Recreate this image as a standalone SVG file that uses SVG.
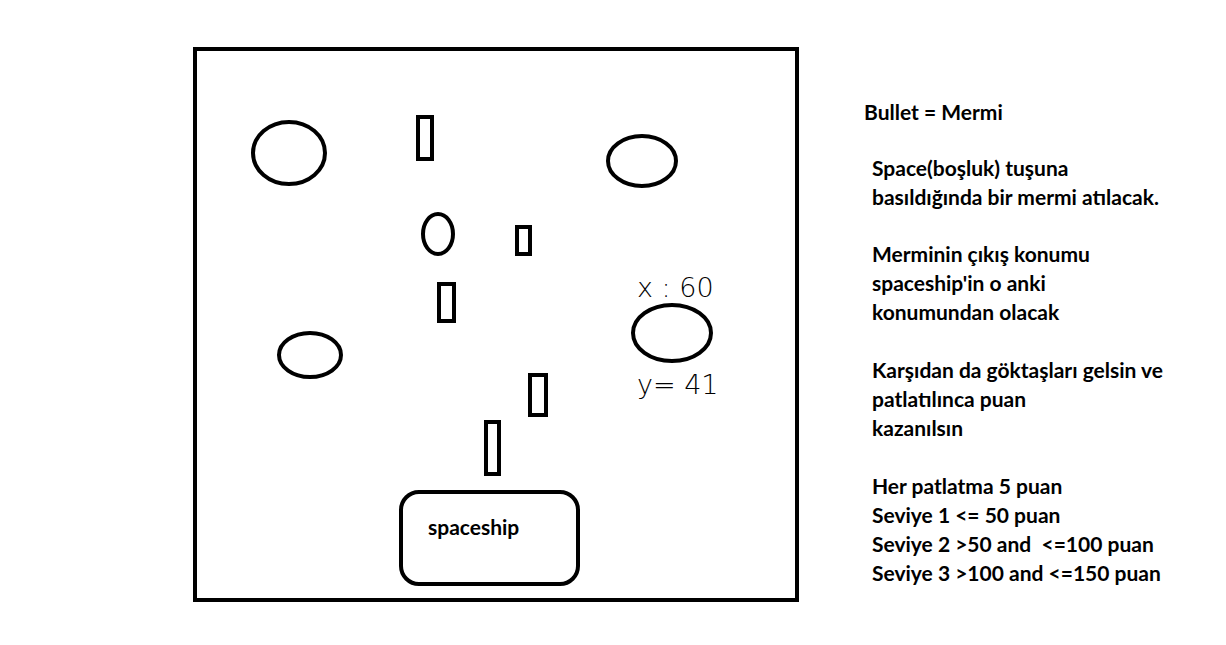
<svg xmlns="http://www.w3.org/2000/svg" width="1226" height="645" viewBox="0 0 1226 645">
<style>
.s{fill:none;stroke:#000;stroke-width:4}
.t{font-family:Lato,"Liberation Sans",sans-serif;font-size:21px;font-weight:bold;fill:#000;white-space:pre}
.h{font-family:"DejaVu Sans",sans-serif;font-size:27px;font-weight:200;fill:#000}
</style>
<rect width="1226" height="645" fill="#fff"/>
<g id="frame"><rect class="s" x="195" y="49" width="602" height="551"/></g>
<g id="asteroid1"><ellipse class="s" cx="289" cy="153" rx="36" ry="31"/></g>
<g id="asteroid2"><ellipse class="s" cx="642" cy="161" rx="34" ry="25"/></g>
<g id="asteroid3"><ellipse class="s" cx="438" cy="234" rx="15" ry="20"/></g>
<g id="asteroid4"><ellipse class="s" cx="310" cy="355" rx="31" ry="22"/></g>
<g id="asteroid5"><ellipse class="s" cx="672" cy="333" rx="39" ry="28"/>
<text class="h" x="637" y="297">x : 60</text>
<text class="h" x="637" y="394">y= 41</text></g>
<g id="bullet1"><rect class="s" x="418" y="117" width="14" height="42"/></g>
<g id="bullet2"><rect class="s" x="517" y="227" width="13" height="27"/></g>
<g id="bullet3"><rect class="s" x="439" y="284" width="15" height="37"/></g>
<g id="bullet4"><rect class="s" x="530" y="375" width="16" height="40"/></g>
<g id="bullet5"><rect class="s" x="486" y="422" width="13" height="52"/></g>
<g id="spaceship"><rect class="s" x="401" y="492" width="177" height="92" rx="18"/>
<text class="t" x="428" y="535">spaceship</text></g>
<g id="notes">
<text class="t" x="864" y="120">Bullet = Mermi</text>
<text class="t" x="872" y="176">Space(boşluk) tuşuna</text>
<text class="t" x="872" y="205">basıldığında bir mermi atılacak.</text>
<text class="t" x="872" y="262">Merminin çıkış konumu</text>
<text class="t" x="872" y="291">spaceship'in o anki</text>
<text class="t" x="872" y="320">konumundan olacak</text>
<text class="t" x="872" y="378">Karşıdan da göktaşları gelsin ve</text>
<text class="t" x="872" y="407">patlatılınca puan</text>
<text class="t" x="872" y="436">kazanılsın</text>
<text class="t" x="872" y="494">Her patlatma 5 puan</text>
<text class="t" x="872" y="523">Seviye 1 &lt;= 50 puan</text>
<text class="t" x="872" y="552" xml:space="preserve">Seviye 2 &gt;50 and  &lt;=100 puan</text>
<text class="t" x="872" y="581">Seviye 3 &gt;100 and &lt;=150 puan</text>
</g>
</svg>
